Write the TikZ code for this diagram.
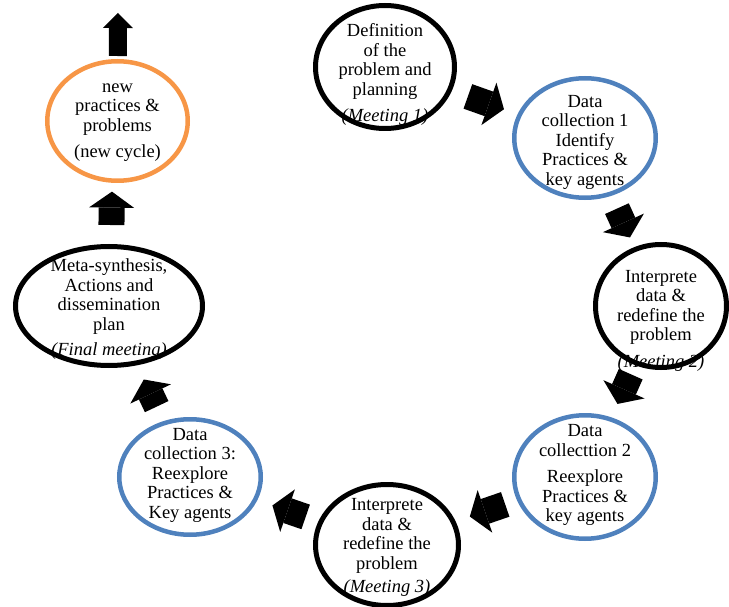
\documentclass[tikz,border=0pt]{standalone}
\usepackage{fontspec}
\setmainfont{Liberation Serif}
\usetikzlibrary{shapes}
\usetikzlibrary{arrows.meta}

\definecolor{stageblue}{HTML}{4F81BD}
\definecolor{stageorange}{HTML}{F79646}

\begin{document}
\begin{tikzpicture}[x=1pt,y=-1pt]
  \tikzset{meeting/.style={ellipse, draw=black, line width=5pt, inner sep=0pt}}
  \tikzset{collect/.style={meeting, draw=stageblue, line width=4.5pt}}
  \tikzset{newcycle/.style={meeting, draw=stageorange, line width=4.5pt}}
  \tikzset{words/.style={align=center, font=\fontsize{18.5}{19.5}\selectfont}}
  \tikzset{bigarrow/.style={line width=26pt,
      -{Triangle[length=16pt, width=45pt, line width=0pt]}}}
  \tikzset{toparrow/.style={line width=18pt,
      -{Triangle[length=15pt, width=30pt, line width=0pt]}}}
  \useasboundingbox (0,0) rectangle (729,607);
  \node[meeting, minimum width=139pt, minimum height=123pt,
    label={[words, yshift=-7.5pt]center:{Definition\\of the\\problem and\\planning\\[7pt]\textit{(Meeting 1)}}}]
    (def) at (385,67) {};
  \node[collect, minimum width=141.5pt, minimum height=119.5pt,
    label={[words, yshift=-4pt]center:{Data\\collection 1\\Identify\\Practices \&\\key agents}}]
    (dc1) at (585,138) {};
  \node[meeting, minimum width=131pt, minimum height=123pt,
    label={[words, yshift=-14.5pt]center:{Interprete\\data \&\\redefine the\\problem\\[7pt]\textit{(Meeting 2)}}}]
    (int2) at (661,306) {};
  \node[collect, minimum width=141.5pt, minimum height=123.5pt,
    label={[words, yshift=2pt]center:{Data\\collecttion 2\\[7pt]Reexplore\\Practices \&\\key agents}}]
    (dc2) at (585,477) {};
  \node[meeting, minimum width=143pt, minimum height=121pt,
    label={[words, yshift=-2.5pt]center:{Interprete\\data \&\\redefine the\\problem\\[4pt]\textit{(Meeting 3)}}}]
    (int3) at (387,545) {};
  \node[collect, minimum width=141.5pt, minimum height=115.5pt,
    label={[words, yshift=2pt]center:{Data\\collection 3:\\Reexplore\\Practices \&\\Key agents}}]
    (dc3) at (190,477) {};
  \node[meeting, minimum width=187pt, minimum height=119pt,
    label={[words, yshift=-3.5pt]center:{Meta-synthesis,\\Actions and\\dissemination\\plan\\[6pt]\textit{(Final meeting)}}}]
    (meta) at (109,306) {};
  \node[newcycle, minimum width=140.5pt, minimum height=119.5pt,
    label={[words, yshift=-1.5pt]center:{new\\practices \&\\problems\\[7pt](new cycle)}}]
    (newp) at (117.5,121) {};
  \coordinate (next) at (118,13);

  % arrows round the cycle
  \draw[bigarrow, shorten <=17pt, shorten >=14.5pt] (def) -- (dc1);
  \draw[bigarrow, shorten <=14pt, shorten >=10.6pt] (dc1) -- (int2);
  \draw[bigarrow, shorten <=10pt, shorten >=14.7pt] (int2) -- (dc2);
  \draw[bigarrow, shorten <=12.5pt, shorten >=15pt] (dc2) -- (int3);
  \draw[bigarrow, shorten <=13.5pt, shorten >=16pt] (int3) -- (dc3);
  \draw[bigarrow, shorten <=16pt, shorten >=15.7pt] (dc3) -- (meta);
  \draw[bigarrow, shorten <=19pt, shorten >=8.8pt] (meta.88) -- (newp.265);
  \draw[toparrow, shorten <=3pt] (newp) -- (next);
\end{tikzpicture}
\end{document}
